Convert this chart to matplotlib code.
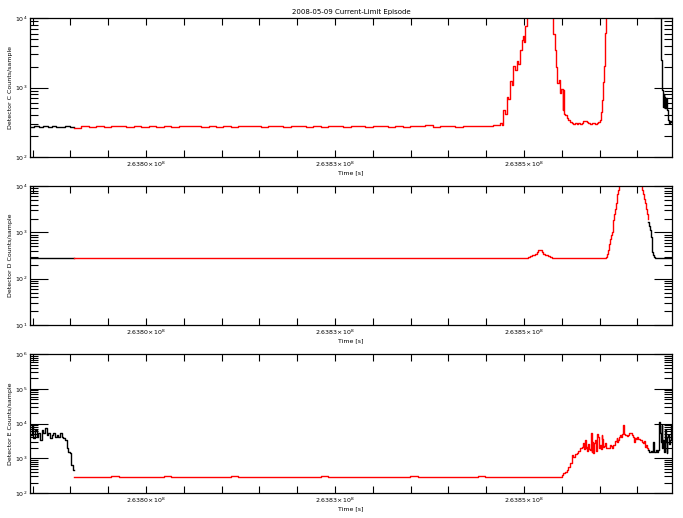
import numpy as np
import matplotlib
matplotlib.use("Agg")
import matplotlib.pyplot as plt
from matplotlib.ticker import FixedLocator, FixedFormatter, LogLocator, NullFormatter

# time offsets in seconds, relative to 2.6380e8
T0 = 2.6380e8
t_min, t_max = -1534, 6958
major_ticks = [0, 2500, 5000]
major_labels = ["2.6380×10$^8$", "2.6383×10$^8$", "2.6385×10$^8$"]
title = "2008-05-09 Current-Limit Episode"

# ---------------- Detector C ----------------
c_black_left = [272, 276, 270, 275, 273, 278, 271, 274, 276, 273]
c_red_base = [262, 276, 273, 279, 272, 275, 281, 270, 277, 274, 279, 273, 276, 271, 278,
              275, 283, 272, 276, 274, 280, 271, 277, 275, 279, 273, 276, 282, 272, 275,
              278, 274, 277, 270, 279, 276, 273, 281, 275, 272, 278, 276, 274, 280, 273,
              277, 275, 284, 272, 276, 279, 274, 281, 277, 283, 279, 288]
c_red_t = [4683, 4705, 4727, 4749, 4771, 4793, 4815, 4837, 4859, 4881, 4903, 4925, 4947,
           4969, 4991, 5003, 5014, 5036, 5367, 5389, 5410, 5425, 5441, 5459, 5477, 5495,
           5512, 5520, 5530, 5543, 5565, 5587, 5609, 5631, 5653, 5675, 5697, 5719, 5741,
           5763, 5785, 5807, 5829, 5851, 5873, 5895, 5917, 5939, 5961, 5983, 6006, 6021,
           6036, 6047, 6058, 6066, 6075, 6085]
c_red_v = [306, 290, 477, 420, 741, 690, 1222, 1100, 2010, 1800, 2373, 2200, 3490,
           4800, 5440, 4600, 7590, 20000, 20000, 6000, 3490, 2000, 1155, 1300, 828, 950,
           477, 925, 420, 404, 360, 342, 320, 306, 300, 310, 298, 305, 299,
           310, 325, 334, 320, 306, 300, 310, 306, 300, 310, 320, 342, 450,
           663, 1200, 2010, 4000, 6080, 20000]
c_black_t = [6780, 6799, 6813, 6821, 6830, 6837, 6843, 6850, 6856, 6866, 6877, 6888,
             6899, 6910, 6921, 6932, 6945, 6958]
c_black_v = [20000, 20000, 2506, 1400, 925, 600, 532, 800, 741, 500, 700, 477,
             342, 340, 306, 325, 315, 315]

# ---------------- Detector D ----------------
d_black_left = [277, 275, 279, 276, 278, 274, 277, 279, 276, 277]
d_red_base = [278, 276, 279, 277, 275, 280, 277, 276, 278, 279, 276, 277, 281, 275, 278,
              277, 276, 279, 277, 278, 275, 277, 280, 276, 278, 277, 279, 276, 277, 278,
              274, 279, 277, 276, 278, 280, 277, 276, 278, 277, 279, 276, 277, 275, 278,
              277, 279, 276, 278, 277, 276, 279, 277, 278, 276, 277, 279, 278, 276, 278]
d_red_t = [5036, 5058, 5080, 5102, 5124, 5146, 5168, 5190, 5212, 5234, 5256, 5278,
           5300, 5322, 5345, 5367, 5389, 5410, 5500, 5600, 5700, 5800, 5900, 6000,
           6085, 6100, 6116, 6127, 6138, 6149, 6160, 6171, 6182, 6193, 6204, 6215,
           6226, 6237, 6248, 6261, 6566, 6579, 6590, 6601, 6612, 6623, 6634]
d_red_v = [285, 300, 315, 320, 333, 350, 380, 427, 410, 380, 350, 330,
           321, 305, 295, 286, 280, 277, 278, 276, 279, 277, 275, 278,
           290, 350, 412, 560, 738, 900, 1028, 1400, 1837, 2500, 3286, 4300,
           5412, 6800, 8185, 20000, 8185, 6800, 5412, 4300, 3286, 2500, 2000]
d_black_t = [6645, 6656, 6667, 6680, 6689, 6698, 6711, 6722, 6733, 6755, 6777, 6800,
             6860, 6920, 6958]
d_black_v = [1690, 1400, 1117, 802, 600, 380, 321, 300, 286, 280, 277, 276,
             278, 277, 277]

# ---------------- Detector E ----------------
e_black_t = [-1534, -1512, -1490, -1468, -1446, -1424, -1402, -1380, -1358, -1336,
             -1314, -1292, -1270, -1248, -1226, -1204, -1182, -1160, -1138, -1116,
             -1094, -1072, -1050, -1040, -1028, -1010, -995, -985, -970, -960]
e_black_v = [4709, 9160, 3776, 6560, 4218, 5260, 3381, 6560, 5260, 7330,
             4709, 5260, 3776, 4709, 5260, 4218, 4709, 4218, 5260, 4218,
             3776, 3381, 2425, 1941, 1556, 1393, 1000, 643, 515, 461]
e_red_base = [296, 298, 295, 297, 296, 299, 294, 296, 298, 295, 297, 296, 300, 295, 296,
              297, 294, 298, 296, 295, 297, 299, 296, 295, 298, 296, 294, 297, 296, 298,
              295, 297, 296, 299, 295, 296, 298, 297, 295, 296, 294, 298, 296, 297, 295,
              299, 296, 297, 295, 298, 296, 294, 297, 296, 299, 295, 297, 296, 298, 295,
              296, 288, 297, 296, 295]
e_red_t = [5476, 5498, 5520, 5542, 5564, 5586, 5608, 5631, 5653, 5675, 5697, 5719,
           5741, 5763, 5785, 5796, 5807, 5818, 5829, 5840, 5851, 5862, 5873, 5884,
           5895, 5906, 5917, 5928, 5939, 5950, 5961, 5972, 5983, 5994, 6005, 6016,
           6027, 6038, 6049, 6060, 6071, 6082, 6093, 6115, 6137, 6148, 6160, 6171,
           6182, 6204, 6226, 6237, 6248, 6259, 6270, 6281, 6292, 6303, 6314, 6325,
           6336, 6358, 6380, 6391, 6402, 6424, 6446, 6457, 6468, 6479, 6490, 6512,
           6534, 6556, 6578, 6589, 6600, 6611, 6623, 6634]
e_red_v = [296, 330, 369, 400, 461, 575, 718, 1248, 1117, 1300, 1393, 1600,
           1941, 2100, 2712, 1900, 3381, 2000, 2173, 1600, 2500, 1800, 1738, 5260,
           1556, 3000, 1393, 2800, 3381, 1600, 2173, 5000, 4218, 2000, 2425, 1900,
           4709, 3500, 2173, 2200, 2712, 2000, 1941, 2000, 2425, 2200, 1941, 2000,
           2425, 3200, 3776, 3000, 3381, 4000, 4709, 4000, 4218, 5000, 9160, 5000,
           4709, 4500, 4709, 5500, 5260, 4700, 4218, 3000, 3776, 3500, 4218, 3600,
           3381, 3000, 2712, 3200, 2173, 2400, 1941, 1800]
e_black2_t = [6645, 6656, 6667, 6678, 6689, 6700, 6711, 6722, 6733, 6744, 6755, 6766,
              6777, 6790, 6799, 6810, 6821, 6832, 6843, 6854, 6865, 6876, 6887, 6898,
              6909, 6920, 6931, 6942, 6953]
e_black2_v = [1738, 1556, 1556, 1650, 1556, 1500, 3025, 1556, 1556, 1738, 1500, 1556,
              1700, 11420, 5260, 3000, 9160, 2000, 3381, 1500, 6560, 3000, 1393, 4000,
              4709, 2500, 3381, 9160, 6560]


def base_times(start, end, vals):
    return list(np.linspace(start, end, len(vals), endpoint=False))


c_pieces = [
    (base_times(-1534, -952, c_black_left), c_black_left, "black"),
    (base_times(-952, 4683, c_red_base) + c_red_t, c_red_base + c_red_v, "red"),
    (c_black_t, c_black_v, "black"),
]
d_pieces = [
    (base_times(-1534, -952, d_black_left), d_black_left, "black"),
    (base_times(-952, 5036, d_red_base) + d_red_t, d_red_base + d_red_v, "red"),
    (d_black_t, d_black_v, "black"),
]
e_pieces = [
    (e_black_t, e_black_v, "black"),
    (base_times(-952, 5476, e_red_base) + e_red_t, e_red_base + e_red_v, "red"),
    (e_black2_t, e_black2_v, "black"),
]

panels = [
    (c_pieces, "Detector C Counts/sample", (1e2, 1e4)),
    (d_pieces, "Detector D Counts/sample", (1e1, 1e4)),
    (e_pieces, "Detector E Counts/sample", (1e2, 1e6)),
]

fig = plt.figure(figsize=(6.83, 5.18), dpi=100)
bottoms = [0.697, 0.3726, 0.0483]
fs = 4.5

for (pieces, ylab, ylim), b in zip(panels, bottoms):
    ax = fig.add_axes([0.0439, b, 0.940, 0.268])
    for i, (t, v, col) in enumerate(pieces):
        t = list(t)
        v = list(v)
        if i + 1 < len(pieces):
            t = t + [pieces[i + 1][0][0]]
            v = v + [v[-1]]
        ax.plot(np.array(t) + T0, v, color=col, lw=1.0, drawstyle="steps-post")
    ax.set_yscale("log")
    ax.set_ylim(*ylim)
    ax.set_xlim(T0 + t_min, T0 + t_max)
    ax.xaxis.set_major_locator(FixedLocator([T0 + m for m in major_ticks]))
    ax.xaxis.set_major_formatter(FixedFormatter(major_labels))
    ax.xaxis.set_minor_locator(FixedLocator([T0 + m for m in range(-1500, 7000, 500)]))
    ax.yaxis.set_major_locator(LogLocator(base=10, numticks=10))
    ax.yaxis.set_minor_locator(LogLocator(base=10, subs=np.arange(2, 10), numticks=10))
    ax.yaxis.set_minor_formatter(NullFormatter())
    ax.tick_params(axis="both", which="both", direction="in", top=True, right=True,
                   labelsize=fs, width=0.8, pad=2)
    ax.tick_params(axis="x", which="both", length=5)
    ax.tick_params(axis="y", which="major", length=13)
    ax.tick_params(axis="y", which="minor", length=6)
    ax.set_ylabel(ylab, fontsize=fs, labelpad=1)
    ax.set_xlabel("Time [s]", fontsize=fs, labelpad=1)
    for s in ax.spines.values():
        s.set_linewidth(0.9)
    if b == bottoms[0]:
        ax.set_title(title, fontsize=5, pad=3)

fig.savefig("out.png", dpi=100)
